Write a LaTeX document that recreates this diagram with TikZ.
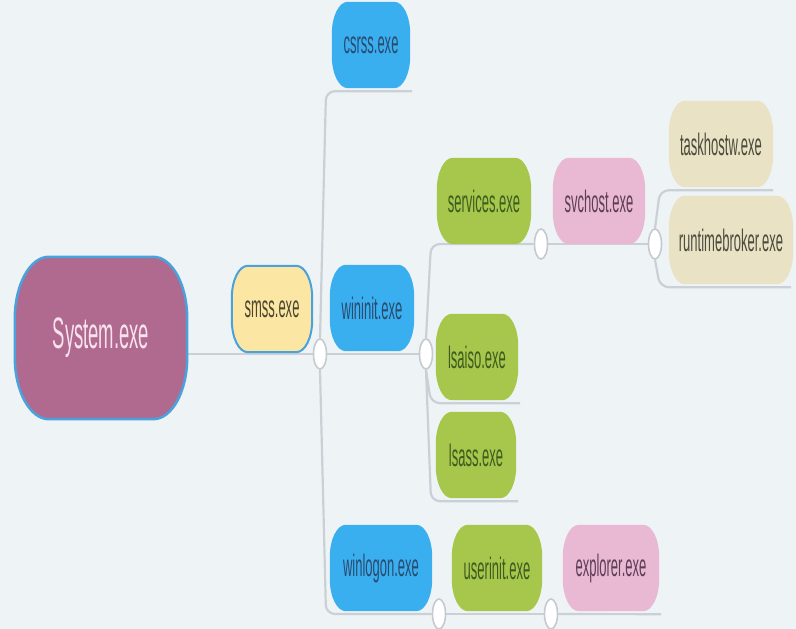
\documentclass[tikz,border=0pt]{standalone}
\usepackage{fontspec}
\setmainfont[FakeStretch=0.42]{Liberation Sans}
\usetikzlibrary{calc,shapes.geometric}

\definecolor{bgc}{HTML}{EEF3F6}
\definecolor{sysf}{HTML}{B06A8F}
\definecolor{sysb}{HTML}{4AA2DC}
\definecolor{syst}{HTML}{F8E2EE}
\definecolor{smssf}{HTML}{FCE6A3}
\definecolor{smsst}{HTML}{4A4630}
\definecolor{bluef}{HTML}{3AAFF0}
\definecolor{bluet}{HTML}{2A4A6E}
\definecolor{greenf}{HTML}{A6C64C}
\definecolor{greent}{HTML}{3D5C1F}
\definecolor{pinkf}{HTML}{E9B9D4}
\definecolor{pinkt}{HTML}{5C3E55}
\definecolor{tanf}{HTML}{E9E2C4}
\definecolor{tant}{HTML}{4B4B3D}
\definecolor{linec}{HTML}{CBD0D6}
\definecolor{knobc}{HTML}{C5CAD0}

\pgfdeclarelayer{paper}
\pgfdeclarelayer{lines}
\pgfdeclarelayer{pills}
\pgfsetlayers{paper,lines,pills,main}

% stadium-like background with elliptic corners behind a node
% #1 node, #2 x radius, #3 y radius, #4 path style
\newcommand\pillbg[4]{%
  \path[#4] let \p1=(#1.south west), \p2=(#1.north east) in
    (\x1+#2,\y2) -- (\x2-#2,\y2)
    arc[start angle=90,end angle=0,x radius=#2,y radius=#3]
    -- (\x2,\y1+#3)
    arc[start angle=0,end angle=-90,x radius=#2,y radius=#3]
    -- (\x1+#2,\y1)
    arc[start angle=270,end angle=180,x radius=#2,y radius=#3]
    -- (\x1,\y2-#3)
    arc[start angle=180,end angle=90,x radius=#2,y radius=#3] -- cycle;}

\begin{document}
\begin{tikzpicture}[x=1pt,y=1pt,
  lbl/.style={inner sep=0pt, minimum height=86pt, font=\fontsize{31}{34}\selectfont},
  conn/.style={draw=linec, line width=2.2pt, rounded corners=9pt},
  knob/.style={ellipse, draw=knobc, line width=1.6pt, fill=white,
    minimum width=13pt, minimum height=30pt, inner sep=0pt},
  bluep/.style={fill=bluef},
  greenp/.style={fill=greenf},
  pinkp/.style={fill=pinkf},
  tanp/.style={fill=tanf}]

\begin{pgfonlayer}{paper}
  \fill[bgc] (0,0) rectangle (796,629);
\end{pgfonlayer}
\useasboundingbox (0,0) rectangle (796,629);

% process labels
\node[lbl, minimum width=172pt, minimum height=162pt,
  font=\fontsize{44}{48}\selectfont, text=syst] (sys) at (101,291) {System.exe};
\node[lbl, minimum width=80pt, text=smsst] (smss) at (272,320) {smss.exe};
\node[lbl, minimum width=78pt, text=bluet] (csrss) at (371,584) {csrss.exe};
\node[lbl, minimum width=84pt, text=bluet] (wininit) at (372,321) {wininit.exe};
\node[lbl, minimum width=102pt, text=bluet] (winlogon) at (381,61) {winlogon.exe};
\node[lbl, minimum width=90pt, text=greent] (userinit) at (497,61) {userinit.exe};
\node[lbl, minimum width=96pt, text=pinkt] (explorer) at (611,61) {explorer.exe};
\node[lbl, minimum width=94pt, text=greent] (services) at (484,428) {services.exe};
\node[lbl, minimum width=92pt, text=pinkt] (svchost) at (599,428) {svchost.exe};
\node[lbl, minimum width=104pt, text=tant] (taskhostw) at (721,485) {taskhostw.exe};
\node[lbl, minimum width=124pt, minimum height=88pt, text=tant] (runtimebroker) at (731,389) {runtimebroker.exe};
\node[lbl, minimum width=82pt, text=greent] (lsaiso) at (477,272) {lsaiso.exe};
\node[lbl, minimum width=80pt, text=greent] (lsass) at (476,174) {lsass.exe};

% branch knobs
\node[knob] (c-smss) at (320,275) {};
\node[knob] (c-wininit) at (426,275) {};
\node[knob] (c-services) at (541,385) {};
\node[knob] (c-svchost) at (655,385) {};
\node[knob] (c-winlogon) at (439,15) {};
\node[knob] (c-userinit) at (551,15) {};

% underline ends and trunk offsets
\coordinate (u-csrss) at ([xshift=2pt,yshift=-3pt]csrss.south east);
\coordinate (u-lsaiso) at ([xshift=2pt,yshift=-3pt]lsaiso.south east);
\coordinate (u-lsass) at ([xshift=2pt,yshift=-3pt]lsass.south east);
\coordinate (u-taskhostw) at ([xshift=0pt,yshift=-3pt]taskhostw.south east);
\coordinate (u-runtimebroker) at ([xshift=-2pt,yshift=-3pt]runtimebroker.south east);
\coordinate (u-explorer) at ([xshift=2pt,yshift=-3pt]explorer.south east);
\coordinate (t-smss) at ([xshift=6pt]c-smss);
\coordinate (t-wininit) at ([xshift=5pt]c-wininit);
\coordinate (t-svchost) at ([xshift=5pt]c-svchost);

\begin{pgfonlayer}{lines}
  \draw[conn] (sys.east |- c-smss) -- (c-smss);
  \draw[conn] (c-smss.north) -- (t-smss |- u-csrss) -- (u-csrss);
  \draw[conn] (c-smss) -- (c-wininit);
  \draw[conn] (c-smss.south) -- (t-smss |- c-winlogon) -- (c-winlogon);
  \draw[conn] (c-wininit.north) -- (t-wininit |- c-services) -- (c-services);
  \draw[conn] (c-wininit.south) -- (t-wininit |- u-lsaiso) -- (u-lsaiso);
  \draw[conn] (c-wininit.south) -- (t-wininit |- u-lsass) -- (u-lsass);
  \draw[conn] (c-services) -- (c-svchost);
  \draw[conn] (c-svchost.north) -- (t-svchost |- u-taskhostw) -- (u-taskhostw);
  \draw[conn] (c-svchost.south) -- (t-svchost |- u-runtimebroker) -- (u-runtimebroker);
  \draw[conn] (c-winlogon) -- (c-userinit);
  \draw[conn] (c-userinit) -- (u-explorer);
\end{pgfonlayer}

\begin{pgfonlayer}{pills}
  \pillbg{sys}{34pt}{62pt}{fill=sysf, draw=sysb, line width=2.5pt}
  \pillbg{smss}{16pt}{32pt}{fill=smssf, draw=sysb, line width=2pt}
  \pillbg{csrss}{16pt}{32pt}{bluep}
  \pillbg{wininit}{16pt}{32pt}{bluep}
  \pillbg{winlogon}{16pt}{32pt}{bluep}
  \pillbg{userinit}{16pt}{32pt}{greenp}
  \pillbg{services}{16pt}{32pt}{greenp}
  \pillbg{lsaiso}{16pt}{32pt}{greenp}
  \pillbg{lsass}{16pt}{32pt}{greenp}
  \pillbg{svchost}{16pt}{32pt}{pinkp}
  \pillbg{explorer}{16pt}{32pt}{pinkp}
  \pillbg{taskhostw}{16pt}{32pt}{tanp}
  \pillbg{runtimebroker}{16pt}{32pt}{tanp}
\end{pgfonlayer}
\end{tikzpicture}
\end{document}
